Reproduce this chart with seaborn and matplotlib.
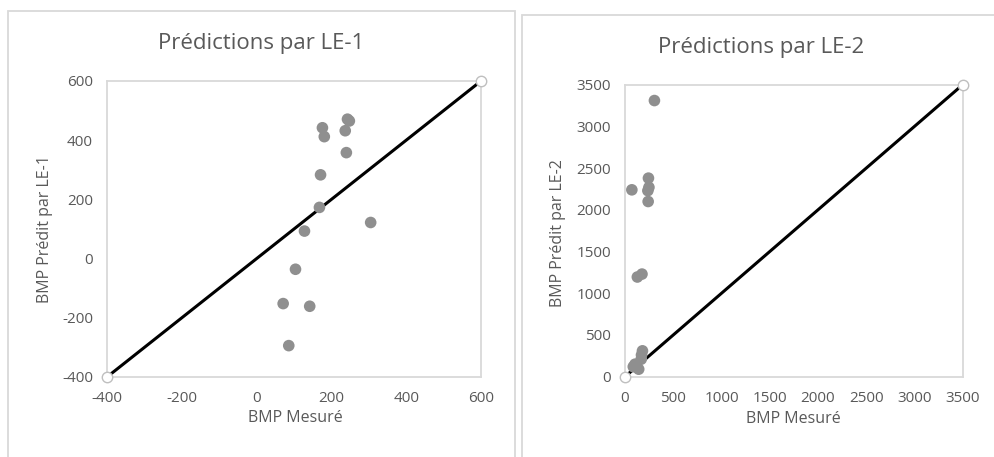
import matplotlib
matplotlib.use("Agg")
import matplotlib.pyplot as plt
from matplotlib.patches import Rectangle
import numpy as np
import pandas as pd
import seaborn as sns

# Measured BMP and predictions from the two models
bmp_mesure = [176, 181, 243, 248, 237, 240, 171, 168, 305, 128, 104, 71, 142, 86]
pred_le1 = [442, 412, 471, 465, 432, 358, 283, 173, 122, 93, -36, -152, -161, -294]
pred_le2 = [1230, 310, 2380, 2270, 2230, 2100, 260, 210, 3310, 1195, 150, 2240, 90, 120]

# 1:1 reference lines
ref_le1 = [-400, 600]
ref_le2 = [0, 3500]

ticks_le1 = [-400, -200, 0, 200, 400, 600]
ticks_le2 = [0, 500, 1000, 1500, 2000, 2500, 3000, 3500]

titles = ["Prédictions par LE-1", "Prédictions par LE-2"]
ylabels = ["BMP Prédit par LE-1", "BMP Prédit par LE-2"]
xlabel = "BMP Mesuré"

sns.set_theme(style="white")
plt.rcParams["font.family"] = ["Open Sans", "DejaVu Sans"]
plt.rcParams["axes.unicode_minus"] = False

TXT = "#595959"
FRAME = "#d9d9d9"
DOT = "#8f8f8f"

df = pd.DataFrame({"mesure": bmp_mesure, "le1": pred_le1, "le2": pred_le2})

fig = plt.figure(figsize=(9.94, 4.57), dpi=100)
W, H = 994, 457

# outer chart borders
fig.patches.append(Rectangle((8 / W, -0.1), (515 - 8) / W, 1.1 - 11 / H,
                             transform=fig.transFigure, fill=False,
                             edgecolor=FRAME, linewidth=1.3))
fig.patches.append(Rectangle((522 / W, -0.1), 0.5, 1.1 - 15 / H,
                             transform=fig.transFigure, fill=False,
                             edgecolor=FRAME, linewidth=1.3))

ax1 = fig.add_axes([107 / W, 1 - 377 / H, (481 - 107) / W, (377 - 81) / H])
ax2 = fig.add_axes([625 / W, 1 - 376.7 / H, (962.7 - 625) / W, (376.7 - 84.7) / H])

panels = [
    (ax1, "le1", ref_le1, ticks_le1, titles[0], ylabels[0], 261, 43),
    (ax2, "le2", ref_le2, ticks_le2, titles[1], ylabels[1], 761, 47),
]

for ax, col, ref, ticks, title, ylab, tx, ty in panels:
    sns.scatterplot(data=df, x="mesure", y=col, ax=ax, color=DOT, s=70,
                    edgecolor="none", zorder=3)
    ax.plot(ref, ref, color="black", linewidth=2.2, zorder=2)
    ax.plot(ref, ref, linestyle="none", marker="o", markersize=7.5,
            markerfacecolor="white", markeredgecolor="#bfbfbf",
            markeredgewidth=1.0, zorder=4, clip_on=False)
    ax.set_xlim(ref)
    ax.set_ylim(ref)
    ax.set_xticks(ticks)
    ax.set_yticks(ticks)
    ax.tick_params(axis="both", length=0, pad=10, labelsize=11, labelcolor=TXT)
    for sp in ax.spines.values():
        sp.set_color(FRAME)
        sp.set_linewidth(1.3)
    ax.set_xlabel("")
    ax.set_ylabel("")
    fig.text(tx / W, 1 - ty / H, title, ha="center", va="center",
             fontsize=16, color=TXT)

fig.text(295 / W, 1 - 418 / H, xlabel, ha="center", va="center", fontsize=11.5, color=TXT)
fig.text(793 / W, 1 - 419 / H, xlabel, ha="center", va="center", fontsize=11.5, color=TXT)
fig.text(45 / W, 1 - 229 / H, ylabels[0], ha="center", va="center", rotation=90,
         fontsize=11.5, color=TXT)
fig.text(558 / W, 1 - 233 / H, ylabels[1], ha="center", va="center", rotation=90,
         fontsize=11.5, color=TXT)

fig.savefig("out.png", dpi=100)
